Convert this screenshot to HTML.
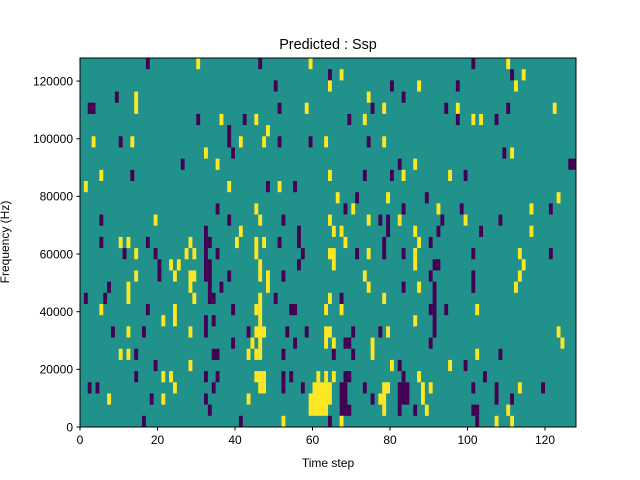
<!DOCTYPE html>
<html><head><meta charset="utf-8"><style>
html,body{margin:0;padding:0;background:#fff;width:640px;height:480px;overflow:hidden}
svg text{font-family:"Liberation Sans","DejaVu Sans",sans-serif;fill:#000}
</style></head><body>
<svg id="chart" width="640" height="480" xmlns="http://www.w3.org/2000/svg">
<rect width="640" height="480" fill="#fff"/>
<text x="328" y="49" font-size="14.4" text-anchor="middle">Predicted : Ssp</text>
<text x="328" y="467" font-size="12" text-anchor="middle">Time step</text>
<text transform="translate(9,242) rotate(-90)" font-size="12" text-anchor="middle">Frequency (Hz)</text>
<g id="cells"></g>
<g id="axes"></g>
</svg>
<script>
const nSteps = 128;
const nBins = 33;
const fMax = 128000;
const xTicks = [0, 20, 40, 60, 80, 100, 120];
const yTicks = [0, 20000, 40000, 60000, 80000, 100000, 120000];
const valueColors = {"-1": "#440154", "0": "#21918c", "1": "#fde725"};
// [tStart, tEnd, binLow, binHigh, value]
const cellSpans = [
[17,17,32,32,-1],[30,30,32,32,1],[9,9,29,29,-1],[14,14,28,29,1],[2,3,28,28,-1],[30,30,27,27,-1],[3,3,25,25,1],[10,10,25,25,-1],[13,13,25,25,1],[26,26,23,23,-1],[5,5,22,22,1],[13,13,22,22,-1],[1,1,21,21,1],[5,5,18,18,-1],[19,19,18,18,1],
[5,5,16,16,-1],[10,10,16,16,1],[12,12,16,16,1],[17,17,16,16,-1],[28,28,16,16,1],
[11,11,15,15,-1],[14,14,15,15,1],[19,19,15,15,-1],[27,27,15,15,1],[29,29,15,15,1],
[20,20,13,14,-1],[23,23,14,14,1],[25,25,14,14,1],
[14,14,13,13,1],[24,24,13,13,1],[28,29,13,13,1],
[7,7,12,12,-1],[12,12,11,12,1],[28,28,12,12,1],
[1,1,11,11,-1],[6,6,11,11,-1],[29,29,11,11,1],
[5,5,10,10,1],[17,17,10,10,-1],[24,24,9,10,1],[21,21,9,9,1],
[8,8,8,8,-1],[12,12,8,8,1],[16,16,8,8,-1],[28,28,8,8,1],
[10,10,6,6,1],[12,12,6,6,1],[14,14,6,6,-1],
[19,19,5,5,-1],[28,28,5,5,1],
[14,14,4,4,-1],[21,21,4,4,1],[23,23,4,4,1],
[2,2,3,3,-1],[4,4,3,3,-1],[24,24,3,3,1],
[7,7,2,2,1],[18,18,2,2,-1],[21,21,2,2,1],[16,16,0,0,-1],
[46,46,32,32,-1],[59,59,32,32,1],[50,50,30,30,-1],[51,51,28,28,-1],[58,58,28,28,1],[36,36,27,27,1],[42,42,27,27,-1],[45,45,27,27,1],[38,38,25,26,-1],[48,48,26,26,1],[41,41,25,25,1],[47,47,25,25,1],[51,51,25,25,-1],[59,59,25,25,-1],[63,63,25,25,1],[32,32,24,24,1],[39,39,24,24,-1],[35,35,23,23,1],[38,38,21,21,1],[48,48,21,21,-1],[51,51,21,21,1],[55,55,21,21,-1],[35,35,19,19,-1],[45,45,19,19,1],[38,38,18,18,-1],[46,46,18,18,1],[52,52,18,18,-1],[32,32,16,17,-1],[41,41,17,17,1],[56,56,16,17,-1],
[33,33,16,16,-1],[40,40,16,16,1],[45,45,15,16,1],[47,47,16,16,1],[51,51,16,16,-1],
[32,32,13,15,-1],[33,33,11,14,-1],[34,34,11,11,-1],
[35,35,15,15,-1],[38,38,13,13,-1],[36,36,12,12,-1],
[46,46,13,14,1],[46,46,9,11,1],[48,48,12,13,1],[56,56,14,14,-1],[57,57,15,15,-1],[52,52,13,13,-1],[50,50,11,11,-1],[39,39,10,10,-1],[45,45,10,10,1],[54,55,10,10,-1],[63,63,10,10,1],
[32,32,8,9,-1],[34,34,9,9,-1],[43,43,8,8,-1],[45,47,8,8,1],[53,53,8,8,-1],[58,58,8,8,-1],[63,63,7,8,1],
[39,39,7,7,-1],[44,44,7,7,1],[46,46,6,7,1],[55,55,7,7,-1],[43,43,6,6,1],[45,45,6,6,1],[34,35,6,6,-1],[52,52,6,6,-1],
[32,32,4,4,-1],[35,35,4,4,-1],[45,47,4,4,1],[46,47,3,3,1],[52,52,3,4,-1],[54,54,4,4,-1],[61,61,4,4,1],[63,63,4,4,1],[34,34,3,3,-1],[57,57,3,3,-1],[60,63,3,3,1],[59,63,1,2,1],[32,32,2,2,-1],[43,43,2,2,1],[33,33,1,1,-1],[41,41,0,0,-1],[52,52,0,0,1],
[64,64,31,31,-1],[67,67,31,31,1],[64,64,30,30,1],[80,80,30,30,-1],[87,87,30,30,1],[74,74,29,29,1],[83,83,29,29,-1],[75,75,28,28,-1],[78,78,28,28,1],[94,94,28,28,-1],[69,69,27,27,-1],[73,73,27,27,1],[74,74,25,25,-1],[78,78,25,25,1],[82,82,23,23,-1],[86,86,23,23,1],
[64,64,22,22,1],[73,73,22,22,-1],[80,80,22,22,-1],[83,83,22,22,1],[95,95,22,22,1],
[66,66,20,20,1],[71,71,20,20,-1],[79,79,20,20,1],[89,89,20,20,-1],
[68,68,19,19,-1],[70,70,19,19,1],[83,83,19,19,-1],[92,92,19,19,1],
[64,64,18,18,1],[74,74,18,18,1],[77,77,18,18,-1],[79,79,17,18,-1],[82,82,18,18,1],[93,93,18,18,-1],
[65,65,17,17,1],[67,67,17,17,1],[86,86,17,17,1],[92,92,17,17,-1],
[68,68,16,16,1],[78,78,15,16,-1],[87,87,16,16,1],[90,90,16,16,-1],
[64,65,15,15,1],[65,65,14,14,1],[71,71,15,15,-1],[74,74,15,15,1],[83,83,15,15,-1],[86,86,14,15,1],
[91,92,14,14,-1],[73,73,13,13,1],[90,90,13,13,-1],
[74,74,12,12,1],[83,83,12,12,-1],[87,87,12,12,1],[91,91,8,12,-1],
[64,64,11,11,1],[67,67,11,11,-1],[78,78,11,11,1],
[67,67,10,10,1],[90,90,10,10,-1],[94,94,10,10,-1],[86,86,9,9,1],
[64,64,8,8,1],[70,70,8,8,-1],[77,77,8,8,-1],[79,79,8,8,1],
[65,65,7,7,1],[68,69,7,7,-1],[75,75,6,7,1],[90,90,7,7,-1],
[65,65,6,6,-1],[70,70,6,6,-1],
[80,80,5,5,1],[82,82,5,5,-1],[95,95,5,5,1],
[65,65,4,4,1],[68,69,4,4,-1],[83,83,4,4,-1],[87,87,4,4,1],
[64,64,2,3,1],[67,68,2,3,-1],[67,69,1,1,-1],[73,73,3,3,-1],[78,79,3,3,1],[82,84,2,3,-1],[82,82,1,1,-1],[88,88,2,3,1],[90,90,3,3,1],[75,75,2,2,-1],[77,78,2,2,1],[78,78,1,1,1],[86,86,1,1,-1],[89,89,1,1,1],[64,64,0,0,-1],[67,67,0,0,1],
[101,101,32,32,-1],[110,110,32,32,1],[111,111,31,31,-1],[114,114,31,31,1],[97,97,30,30,-1],[112,112,30,30,1],
[97,97,28,28,1],[110,110,28,28,-1],[122,122,28,28,1],
[97,97,27,27,-1],[101,101,27,27,1],[103,103,27,27,1],[107,107,27,27,-1],
[109,109,24,24,-1],[111,111,24,24,1],[126,127,23,23,-1],[99,99,22,22,-1],[123,123,20,20,1],
[98,98,19,19,-1],[116,116,19,19,1],[121,121,19,19,-1],
[99,99,18,18,1],[108,108,18,18,-1],[103,103,17,17,-1],[116,116,17,17,1],
[101,101,15,15,-1],[113,113,15,15,1],[121,121,15,15,-1],[114,114,14,14,1],
[101,101,12,13,-1],[113,113,13,13,1],[112,112,12,12,1],
[102,102,10,10,1],[123,123,8,8,1],[124,124,7,7,1],[102,102,6,6,1],[108,108,6,6,-1],
[99,99,5,5,-1],[104,104,4,4,-1],
[101,101,3,3,-1],[107,107,2,3,-1],[113,113,3,3,1],[119,119,3,3,-1],
[111,111,2,2,-1],[101,102,1,1,-1],[110,110,1,1,1],
[102,102,0,0,-1],[107,107,0,0,1],[111,111,0,0,1]
];

const plot = {left: 80, right: 576, top: 58, bottom: 427};
const binHz = fMax / nBins;
function xScale(t) { return plot.left + (t / nSteps) * (plot.right - plot.left); }
function yScale(f) { return plot.bottom - (f / fMax) * (plot.bottom - plot.top); }
const NS = "http://www.w3.org/2000/svg";
const cellsG = document.getElementById('cells');
const axesG = document.getElementById('axes');

const bg = document.createElementNS(NS, 'rect');


bg.setAttribute('x', xScale(0)); bg.setAttribute('y', yScale(fMax));
bg.setAttribute('width', xScale(nSteps) - xScale(0)); bg.setAttribute('height', yScale(0) - yScale(fMax));
bg.setAttribute('fill', valueColors["0"]);
cellsG.appendChild(bg);

cellSpans.forEach(s => {
  const [t0, t1, b0, b1, v] = s;
  const r = document.createElementNS(NS, 'rect');
  
  
  const x0 = xScale(t0), x1 = xScale(t1 + 1);
  const yTop = yScale((b1 + 1) * binHz), yBot = yScale(b0 * binHz);
  r.setAttribute('x', x0.toFixed(2)); r.setAttribute('y', yTop.toFixed(2));
  r.setAttribute('width', (x1 - x0).toFixed(2)); r.setAttribute('height', (yBot - yTop).toFixed(2));
  r.setAttribute('fill', valueColors[String(v)]);
  cellsG.appendChild(r);
});

const frame = document.createElementNS(NS, 'rect');


frame.setAttribute('x', plot.left); frame.setAttribute('y', plot.top);
frame.setAttribute('width', plot.right - plot.left); frame.setAttribute('height', plot.bottom - plot.top);
frame.setAttribute('fill', 'none'); frame.setAttribute('stroke', '#000'); frame.setAttribute('stroke-width', '1');
axesG.appendChild(frame);

xTicks.forEach(t => {
  const x = xScale(t);
  const l = document.createElementNS(NS, 'line');
  
  
  l.setAttribute('x1', x); l.setAttribute('x2', x); l.setAttribute('y1', plot.bottom); l.setAttribute('y2', plot.bottom + 3.5);
  l.setAttribute('stroke', '#000');
  axesG.appendChild(l);
  const tx = document.createElementNS(NS, 'text');
  
  
  tx.setAttribute('x', x); tx.setAttribute('y', plot.bottom + 17);
  tx.setAttribute('font-size', '12'); tx.setAttribute('text-anchor', 'middle');
  tx.textContent = t;
  axesG.appendChild(tx);
});
yTicks.forEach(f => {
  const y = yScale(f);
  const l = document.createElementNS(NS, 'line');
  
  
  l.setAttribute('x1', plot.left - 3.5); l.setAttribute('x2', plot.left); l.setAttribute('y1', y); l.setAttribute('y2', y);
  l.setAttribute('stroke', '#000');
  axesG.appendChild(l);
  const tx = document.createElementNS(NS, 'text');
  
  
  tx.setAttribute('x', plot.left - 7); tx.setAttribute('y', y + 4.3);
  tx.setAttribute('font-size', '12'); tx.setAttribute('text-anchor', 'end');
  tx.textContent = f;
  axesG.appendChild(tx);
});
</script>
</body></html>
